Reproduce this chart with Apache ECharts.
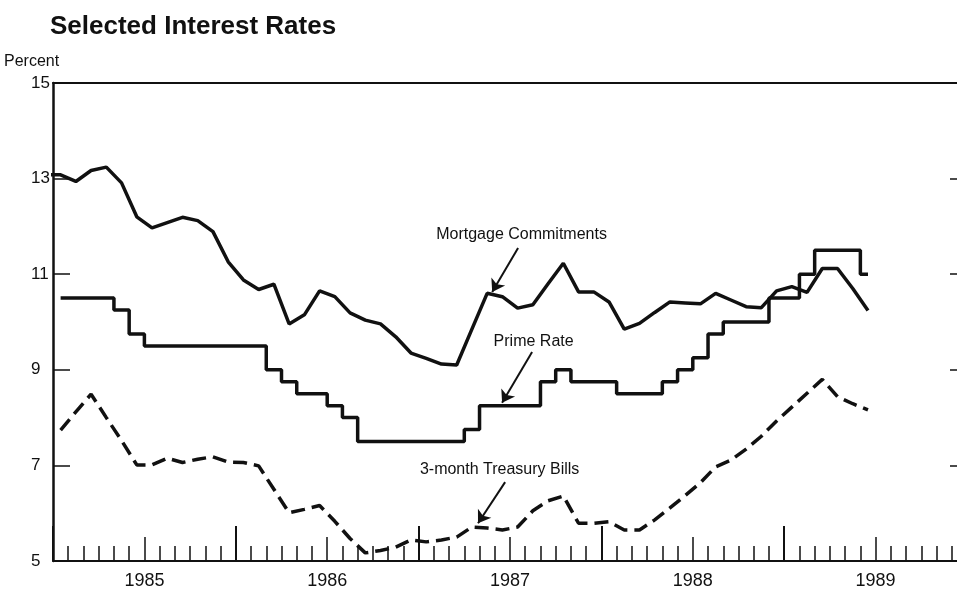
<!DOCTYPE html>
<html>
<head>
<meta charset="utf-8">
<script src="https://cdn.jsdelivr.net/npm/echarts@6/dist/echarts.min.js"></script>
<style>
  html, body { margin: 0; background: #fff; }
  #chart { width: 957px; height: 590px; }
</style>
</head>
<body>
<div id="chart"></div>
<script>
// 年份刻度标签
const years = [1985, 1986, 1987, 1988, 1989]
const yTicks = [5, 7, 9, 11, 13, 15]

// 月度数据, Dec 1984 起
const mortgage = [
  13.08,
  13.08, 12.94, 13.17, 13.24, 12.91, 12.20, 11.97, 12.08, 12.19, 12.12, 11.89, 11.26,
  10.88, 10.68, 10.79, 9.96, 10.15, 10.65, 10.53, 10.19, 10.04, 9.96, 9.69, 9.35,
  9.24, 9.12, 9.10, 9.85, 10.60, 10.53, 10.29, 10.36, 10.80, 11.23, 10.63, 10.63,
  10.42, 9.85, 9.97, 10.20, 10.42, 10.40, 10.38, 10.60, 10.46, 10.32, 10.30, 10.65,
  10.74, 10.62, 11.12, 11.12, 10.70, 10.24,
]
// Jan 1985 起
const prime = [
  10.5, 10.5, 10.5, 10.5, 10.25, 9.75, 9.5, 9.5, 9.5, 9.5, 9.5, 9.5,
  9.5, 9.5, 9.0, 8.75, 8.5, 8.5, 8.25, 8.0, 7.5, 7.5, 7.5, 7.5,
  7.5, 7.5, 7.5, 7.75, 8.25, 8.25, 8.25, 8.25, 8.75, 9.0, 8.75, 8.75,
  8.75, 8.5, 8.5, 8.5, 8.75, 9.0, 9.25, 9.75, 10.0, 10.0, 10.0, 10.5,
  10.5, 11.0, 11.5, 11.5, 11.5, 11.0,
]
const tbill = [
  7.74, 8.12, 8.49, 8.00, 7.52, 7.01, 7.01, 7.15, 7.06, 7.13, 7.18, 7.07,
  7.06, 6.99, 6.50, 6.01, 6.08, 6.16, 5.83, 5.47, 5.17, 5.22, 5.29, 5.44,
  5.40, 5.44, 5.50, 5.71, 5.69, 5.65, 5.71, 6.05, 6.26, 6.36, 5.79, 5.79,
  5.82, 5.65, 5.65, 5.86, 6.11, 6.37, 6.64, 6.97, 7.11, 7.34, 7.61, 7.93,
  8.22, 8.51, 8.80, 8.44, 8.29, 8.16,
]

const ink = '#111'
const sans = '"Liberation Sans", Arial, sans-serif'

// 月份中点: x = 月序号 + 0.5 (0 = Jan 1985)
function toPoints(values, firstMonth) {
  return values.map((v, i) => [firstMonth + i + 0.5, v])
}

// 标注 (数据坐标: 月份, 百分比)
function note(text, at, from, to) {
  return {
    markLine: {
      silent: true,
      symbol: ['none', 'arrow'],
      symbolSize: 12,
      lineStyle: { color: ink, width: 2, type: 'solid' },
      label: { show: false },
      data: [[{ coord: from }, { coord: to }]],
    },
    markPoint: {
      silent: true,
      symbol: 'circle',
      symbolSize: 1,
      itemStyle: { color: 'rgba(0,0,0,0)' },
      label: {
        show: true,
        position: 'inside',
        formatter: text,
        color: ink,
        fontSize: 16,
        fontFamily: sans,
      },
      data: [{ coord: at }],
    },
  }
}

const axisBase = { type: 'value', min: 0, max: 60, splitLine: { show: false } }

const option = {
  animation: false,
  title: [
    {
      text: 'Selected Interest Rates',
      left: 50,
      top: 14,
      padding: 0,
      textStyle: { fontSize: 26, fontWeight: 'bold', fontFamily: sans, color: ink },
    },
    {
      text: 'Percent',
      left: 4,
      top: 54,
      padding: 0,
      textStyle: { fontSize: 16, fontWeight: 'normal', fontFamily: sans, color: ink },
    },
  ],
  grid: { left: 53, top: 83, width: 914, height: 478, outerBoundsMode: 'none' },
  xAxis: [
    {
      ...axisBase,
      interval: 1,
      position: 'bottom',
      axisLine: { show: true, onZero: false, lineStyle: { color: ink, width: 2 } },
      axisTick: { show: true, inside: true, length: 15, lineStyle: { color: ink, width: 1.5 } },
      axisLabel: { show: false },
    },
    {
      ...axisBase,
      interval: 6,
      position: 'bottom',
      axisLine: { show: false, onZero: false },
      axisTick: { show: true, inside: true, length: 24, lineStyle: { color: ink, width: 1.5 } },
      axisLabel: {
        show: true,
        margin: 11,
        fontSize: 18,
        fontFamily: sans,
        color: ink,
        formatter: v => (v % 12 === 6 ? String(years[(v - 6) / 12]) : ''),
      },
    },
    {
      ...axisBase,
      interval: 12,
      position: 'bottom',
      axisLine: { show: false, onZero: false },
      axisTick: { show: true, inside: true, length: 35, lineStyle: { color: ink, width: 2 } },
      axisLabel: { show: false },
    },
    {
      ...axisBase,
      position: 'top',
      axisLine: { show: true, onZero: false, lineStyle: { color: ink, width: 2 } },
      axisTick: { show: false },
      axisLabel: { show: false },
    },
  ],
  yAxis: [
    {
      type: 'value',
      min: yTicks[0],
      max: yTicks[yTicks.length - 1],
      interval: 2,
      position: 'left',
      splitLine: { show: false },
      axisLine: { show: true, onZero: false, lineStyle: { color: ink, width: 2.5 } },
      axisTick: { show: true, inside: true, length: 17, lineStyle: { color: ink, width: 1.5 } },
      axisLabel: { margin: 22, align: 'left', fontSize: 17, fontFamily: sans, color: ink },
    },
    {
      type: 'value',
      min: yTicks[0],
      max: yTicks[yTicks.length - 1],
      interval: 2,
      position: 'right',
      splitLine: { show: false },
      axisLine: { show: true, onZero: false, lineStyle: { color: ink, width: 2 } },
      axisTick: { show: true, inside: true, length: 17, lineStyle: { color: ink, width: 1.5 } },
      axisLabel: { show: false },
    },
  ],
  series: [
    {
      name: 'Mortgage Commitments',
      type: 'line',
      data: toPoints(mortgage, -1),
      symbol: 'none',
      clip: true,
      lineStyle: { color: ink, width: 3.5 },
      ...note('Mortgage Commitments', [30.76, 11.82], [30.53, 11.55], [28.83, 10.63]),
    },
    {
      name: 'Prime Rate',
      type: 'line',
      step: 'middle',
      data: toPoints(prime, 0),
      symbol: 'none',
      clip: true,
      lineStyle: { color: ink, width: 3.5 },
      ...note('Prime Rate', [31.55, 9.58], [31.45, 9.37], [29.48, 8.31]),
    },
    {
      name: '3-month Treasury Bills',
      type: 'line',
      data: toPoints(tbill, 0),
      symbol: 'none',
      clip: true,
      lineStyle: { color: ink, width: 3.5, type: [14, 7] },
      ...note('3-month Treasury Bills', [29.32, 6.92], [29.68, 6.65], [27.9, 5.79]),
    },
  ],
}

const chartInstance = echarts.init(document.getElementById('chart'))
chartInstance.setOption(option)
</script>
</body>
</html>
